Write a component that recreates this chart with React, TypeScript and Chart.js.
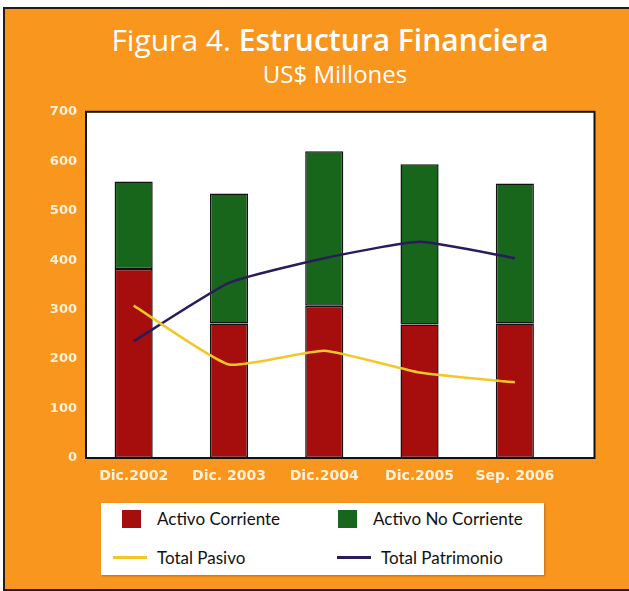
import React, { useEffect, useRef } from "react";
import { Chart, registerables } from "chart.js";

Chart.register(...registerables);

const categories = ["Dic.2002", "Dic. 2003", "Dic.2004", "Dic.2005", "Sep. 2006"];
const activoCorriente = [382, 272, 308, 270, 272];
const activoNoCorriente = [177, 263, 312, 324, 283];
const totalPasivo = [308, 189, 217, 173, 153];
const totalPatrimonio = [236, 354, 404, 437, 404];
const yTicks = [0, 100, 200, 300, 400, 500, 600, 700];

const seriesNames = ["Activo Corriente", "Activo No Corriente", "Total Pasivo", "Total Patrimonio"];

const RED = "#a60d0d";
const GREEN = "#17661b";
const YELLOW = "#f3c72a";
const NAVY = "#2a1b5c";
const ORANGE = "#f8961d";
const TICK = "#fff1dc";
const PLOT_EXTRA_RIGHT = 32;

const plotFrame = {
  id: "plotFrame",
  beforeDatasetsDraw(chart: any) {
    const { ctx, chartArea } = chart;
    ctx.save();
    ctx.fillStyle = "#ffffff";
    ctx.fillRect(chartArea.left, chartArea.top, chartArea.right - chartArea.left + PLOT_EXTRA_RIGHT, chartArea.bottom - chartArea.top);
    ctx.restore();
  },
  afterDatasetsDraw(chart: any) {
    const { ctx, chartArea } = chart;
    ctx.save();
    ctx.strokeStyle = "#111111";
    ctx.lineWidth = 2;
    ctx.strokeRect(chartArea.left, chartArea.top, chartArea.right - chartArea.left + PLOT_EXTRA_RIGHT, chartArea.bottom - chartArea.top);
    ctx.restore();
  },
};

function ChartCanvas() {
  const ref = useRef<HTMLCanvasElement | null>(null);
  useEffect(() => {
    if (!ref.current) return;
    const chart = new Chart(ref.current, {
      type: "bar",
      data: {
        labels: categories,
        datasets: [
          {
            type: "line",
            label: seriesNames[2],
            data: totalPasivo,
            borderColor: YELLOW,
            borderWidth: 2.5,
            pointRadius: 0,
            tension: 0.15,
            stack: "pasivo",
            order: 0,
          } as any,
          {
            type: "line",
            label: seriesNames[3],
            data: totalPatrimonio,
            borderColor: NAVY,
            borderWidth: 2.5,
            pointRadius: 0,
            tension: 0.15,
            stack: "patrimonio",
            order: 0,
          } as any,
          {
            type: "bar",
            label: seriesNames[0],
            data: activoCorriente,
            backgroundColor: RED,
            borderColor: "#111111",
            borderWidth: 1.5,
            borderSkipped: false,
            stack: "activo",
            order: 1,
          },
          {
            type: "bar",
            label: seriesNames[1],
            data: activoNoCorriente,
            backgroundColor: GREEN,
            borderColor: "#111111",
            borderWidth: 1.5,
            borderSkipped: false,
            stack: "activo",
            order: 1,
          },
        ],
      },
      options: {
        responsive: false,
        animation: false,
        layout: { padding: { top: 15, right: 66.5, left: 0, bottom: 0 } },
        plugins: { legend: { display: false }, title: { display: false }, tooltip: { enabled: false } },
        datasets: { bar: { barPercentage: 0.4, categoryPercentage: 1 } },
        scales: {
          x: {
            stacked: true,
            grid: { display: false, drawTicks: false },
            border: { display: false },
            ticks: {
              color: TICK,
              padding: 10,
              font: { family: "DejaVu Sans", size: 14, weight: "bold" },
              maxRotation: 0,
              autoSkip: false,
            },
            afterFit: (s: any) => {
              s.height = 40;
            },
          },
          y: {
            stacked: true,
            min: 0,
            max: 700,
            grid: { display: false, drawTicks: false },
            border: { display: false },
            afterBuildTicks: (s: any) => {
              s.ticks = yTicks.map((v) => ({ value: v }));
            },
            ticks: {
              color: TICK,
              padding: 9,
              font: { family: "DejaVu Sans", size: 13, weight: "bold" },
            },
            afterFit: (s: any) => {
              s.width = 86;
            },
          },
        },
      },
      plugins: [plotFrame],
    });
    return () => chart.destroy();
  }, []);
  return (
    <canvas
      ref={ref}
      width={629}
      height={403}
      style={{ position: "absolute", left: 0, top: 95, width: 629, height: 403 }}
    />
  );
}

function LegendItem({ kind, color, label }: { kind: "box" | "line"; color: string; label: string }) {
  return (
    <div style={{ display: "flex", alignItems: "center" }}>
      {kind === "box" ? (
        <div style={{ width: 19, height: 18, background: color, marginLeft: 9, marginRight: 16 }} />
      ) : (
        <div style={{ width: 34, height: 2.5, background: color, marginRight: 10 }} />
      )}
      <span>{label}</span>
    </div>
  );
}

export default function App() {
  return (
    <div style={{ position: "absolute", left: 0, top: 0, width: 629, height: 591, background: "#ffffff", overflow: "hidden" }}>
      <div
        style={{
          position: "absolute",
          left: 3,
          top: 7,
          width: 640,
          height: 580,
          background: ORANGE,
          border: "2px solid #2a1a12",
        }}
      />
      <div
        style={{
          position: "absolute",
          left: 0,
          top: 20,
          width: 660,
          textAlign: "center",
          color: "#ffffff",
          fontFamily: "'Open Sans', sans-serif",
          fontSize: 30,
          lineHeight: "40px",
        }}
      >
        <span style={{ fontWeight: 400 }}>Figura 4. </span>
        <span style={{ fontWeight: 600 }}>Estructura Financiera</span>
      </div>
      <div
        style={{
          position: "absolute",
          left: 0,
          top: 57,
          width: 670,
          textAlign: "center",
          color: "#ffffff",
          fontFamily: "'Open Sans', sans-serif",
          fontSize: 24,
          lineHeight: "34px",
        }}
      >
        US$ Millones
      </div>
      <ChartCanvas />
      <div
        style={{
          position: "absolute",
          left: 101,
          top: 503,
          width: 443,
          height: 72,
          background: "#ffffff",
          boxShadow: "1px 1px 2px rgba(120,80,30,0.5)",
          fontFamily: "Lato, sans-serif",
          fontSize: 17,
          color: "#111111",
        }}
      >
        <div style={{ position: "absolute", left: 12, top: 5 }}>
          <LegendItem kind="box" color={RED} label={seriesNames[0]} />
        </div>
        <div style={{ position: "absolute", left: 228, top: 5 }}>
          <LegendItem kind="box" color={GREEN} label={seriesNames[1]} />
        </div>
        <div style={{ position: "absolute", left: 12, top: 44 }}>
          <LegendItem kind="line" color={YELLOW} label={seriesNames[2]} />
        </div>
        <div style={{ position: "absolute", left: 236, top: 44 }}>
          <LegendItem kind="line" color={NAVY} label={seriesNames[3]} />
        </div>
      </div>
    </div>
  );
}
